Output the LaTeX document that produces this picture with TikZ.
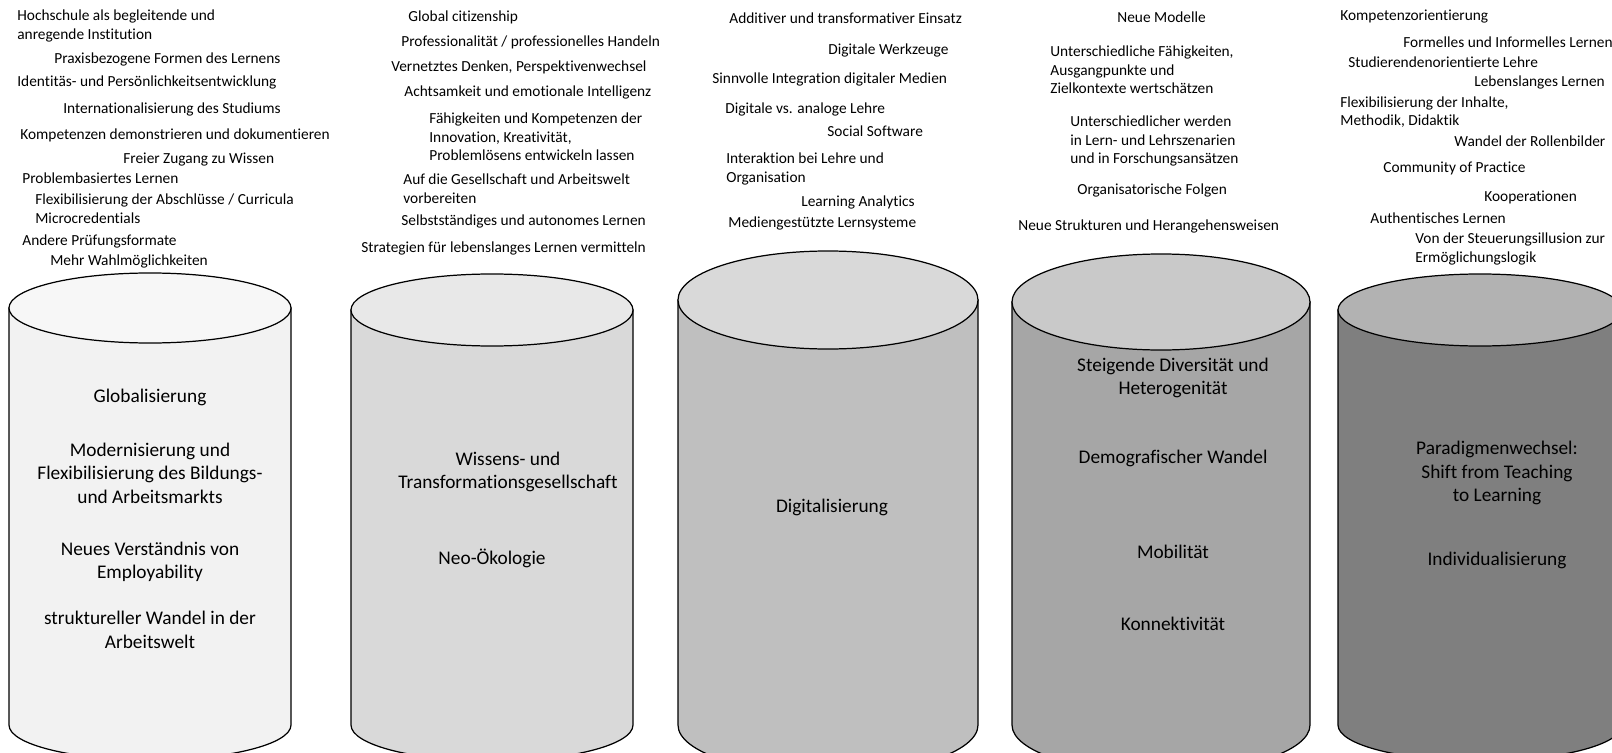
\documentclass[tikz,border=0pt]{standalone}
\usepackage{fontspec}
\setmainfont{Carlito}[Ligatures=NoCommon]
\usetikzlibrary{positioning}

\begin{document}
\begin{tikzpicture}[x=0.02cm,y=-0.02cm,
topic/.style={anchor=west,inner sep=0pt,align=left,font=\fontsize{8.75}{10.6}\selectfont},
driver/.style={inner sep=0pt,align=center,font=\fontsize{11}{13.4}\selectfont},
can/.style={draw=black,line width=0.7pt}]
\useasboundingbox (0,0) rectangle (1612,753);
\clip (0,0) rectangle (1612,753);
\foreach \cx/\rx/\cy/\ry/\sidecol/\lidcol in {150/141/308/35/F2F2F2/F7F7F7,492/141/310/36/D9D9D9/E8E8E8,828/150/300/49/BFBFBF/D9D9D9,1161/149/302/48/A6A6A6/C9C9C9,1480/142/310/36/7F7F7F/B2B2B2}{
  \definecolor{canside}{HTML}{\sidecol}
  \definecolor{canlid}{HTML}{\lidcol}
  \filldraw[can,fill=canside] (\cx-\rx,\cy) -- (\cx-\rx,725) arc[start angle=180,end angle=0,x radius=\rx,y radius=\ry] -- (\cx+\rx,\cy) -- cycle;
  \filldraw[can,fill=canlid] (\cx,\cy) ellipse[x radius=\rx,y radius=\ry];
}
\node[topic] (hochschule) at (17,26) {Hochschule als begleitende und\\anregende Institution};
\node[topic] (praxis) at (54,59) {Praxisbezogene Formen des Lernens};
\node[topic] (identitaet) at (17,82) {Identitäs- und Persönlichkeitsentwicklung};
\node[topic] (international) at (63,109) {Internationalisierung des Studiums};
\node[topic] (kompetenzen) at (20,135) {Kompetenzen demonstrieren und dokumentieren};
\node[topic] (zugang) at (123,160) {Freier Zugang zu Wissen};
\node[topic] (problem) at (22,178) {Problembasiertes Lernen};
\node[topic] (abschluesse) at (35,209) {Flexibilisierung der Abschlüsse / Curricula\\Microcredentials};
\node[topic] (pruefung) at (22,241) {Andere Prüfungsformate};
\node[topic] (wahl) at (50,261) {Mehr Wahlmöglichkeiten};
\node[topic] (citizen) at (408,17) {Global citizenship};
\node[topic] (profession) at (401,42) {Professionalität / professionelles Handeln};
\node[topic] (vernetzt) at (391,67) {Vernetztes Denken, Perspektivenwechsel};
\node[topic] (achtsam) at (404,92) {Achtsamkeit und emotionale Intelligenz};
\node[topic] (innovation) at (429,137) {Fähigkeiten und Kompetenzen der\\Innovation, Kreativität,\\Problemlösens entwickeln lassen};
\node[topic] (gesellschaft) at (403,189) {Auf die Gesellschaft und Arbeitswelt\\vorbereiten};
\node[topic] (autonom) at (401,221) {Selbstständiges und autonomes Lernen};
\node[topic] (strategien) at (361,248) {Strategien für lebenslanges Lernen vermitteln};
\node[topic] (additiv) at (729,18) {Additiver und transformativer Einsatz};
\node[topic] (werkzeuge) at (828,50) {Digitale Werkzeuge};
\node[topic] (integration) at (712,79) {Sinnvolle Integration digitaler Medien};
\node[topic] (analog) at (725,109) {Digitale vs. analoge Lehre};
\node[topic] (social) at (827,131) {Social Software};
\node[topic] (interaktion) at (726,169) {Interaktion bei Lehre und\\Organisation};
\node[topic] (analytics) at (801,202) {Learning Analytics};
\node[topic] (lernsysteme) at (728,223) {Mediengestützte Lernsysteme};
\node[topic] (modelle) at (1117,17) {Neue Modelle};
\node[topic] (faehigkeiten) at (1050,70) {Unterschiedliche Fähigkeiten,\\Ausgangpunkte und\\Zielkontexte wertschätzen};
\node[topic] (unterschied) at (1070,141) {Unterschiedlicher werden\\in Lern- und Lehrszenarien\\und in Forschungsansätzen};
\node[topic] (folgen) at (1077,190) {Organisatorische Folgen};
\node[topic] (strukturen) at (1018,226) {Neue Strukturen und Herangehensweisen};
\node[topic] (kompetenzorient) at (1340,17) {Kompetenzorientierung};
\node[topic] (formell) at (1403,42) {Formelles und Informelles Lernen};
\node[topic] (studierende) at (1348,62) {Studierendenorientierte Lehre};
\node[topic] (lebenslang) at (1474,82) {Lebenslanges Lernen};
\node[topic] (inhalte) at (1340,112) {Flexibilisierung der Inhalte,\\Methodik, Didaktik};
\node[topic] (rollen) at (1454,141) {Wandel der Rollenbilder};
\node[topic] (community) at (1383,168) {Community of Practice};
\node[topic] (kooperation) at (1484,197) {Kooperationen};
\node[topic] (authentisch) at (1370,218) {Authentisches Lernen};
\node[topic] (steuerung) at (1415,249) {Von der Steuerungsillusion zur\\Ermöglichungslogik};
\node[driver] (glob) at (150,397) {Globalisierung};
\node[driver] (modern) at (150,473) {Modernisierung und\\Flexibilisierung des Bildungs-\\und Arbeitsmarkts};
\node[driver] (employ) at (150,562) {Neues Verständnis von\\Employability};
\node[driver] (strukturell) at (150,630) {struktureller Wandel in der\\Arbeitswelt};
\node[driver] (wissen) at (508,472) {Wissens- und\\Transformationsgesellschaft};
\node[driver] (oeko) at (492,558) {Neo-Ökologie};
\node[driver] (digital) at (832,507) {Digitalisierung};
\node[driver] (divers) at (1173,378) {Steigende Diversität und\\Heterogenität};
\node[driver] (demograf) at (1173,458) {Demografischer Wandel};
\node[driver] (mobil) at (1173,552) {Mobilität};
\node[driver] (konnekt) at (1173,624) {Konnektivität};
\node[driver] (paradigma) at (1497,473) {Paradigmenwechsel:\\Shift from Teaching\\to Learning};
\node[driver] (individual) at (1497,560) {Individualisierung};
\end{tikzpicture}
\end{document}
